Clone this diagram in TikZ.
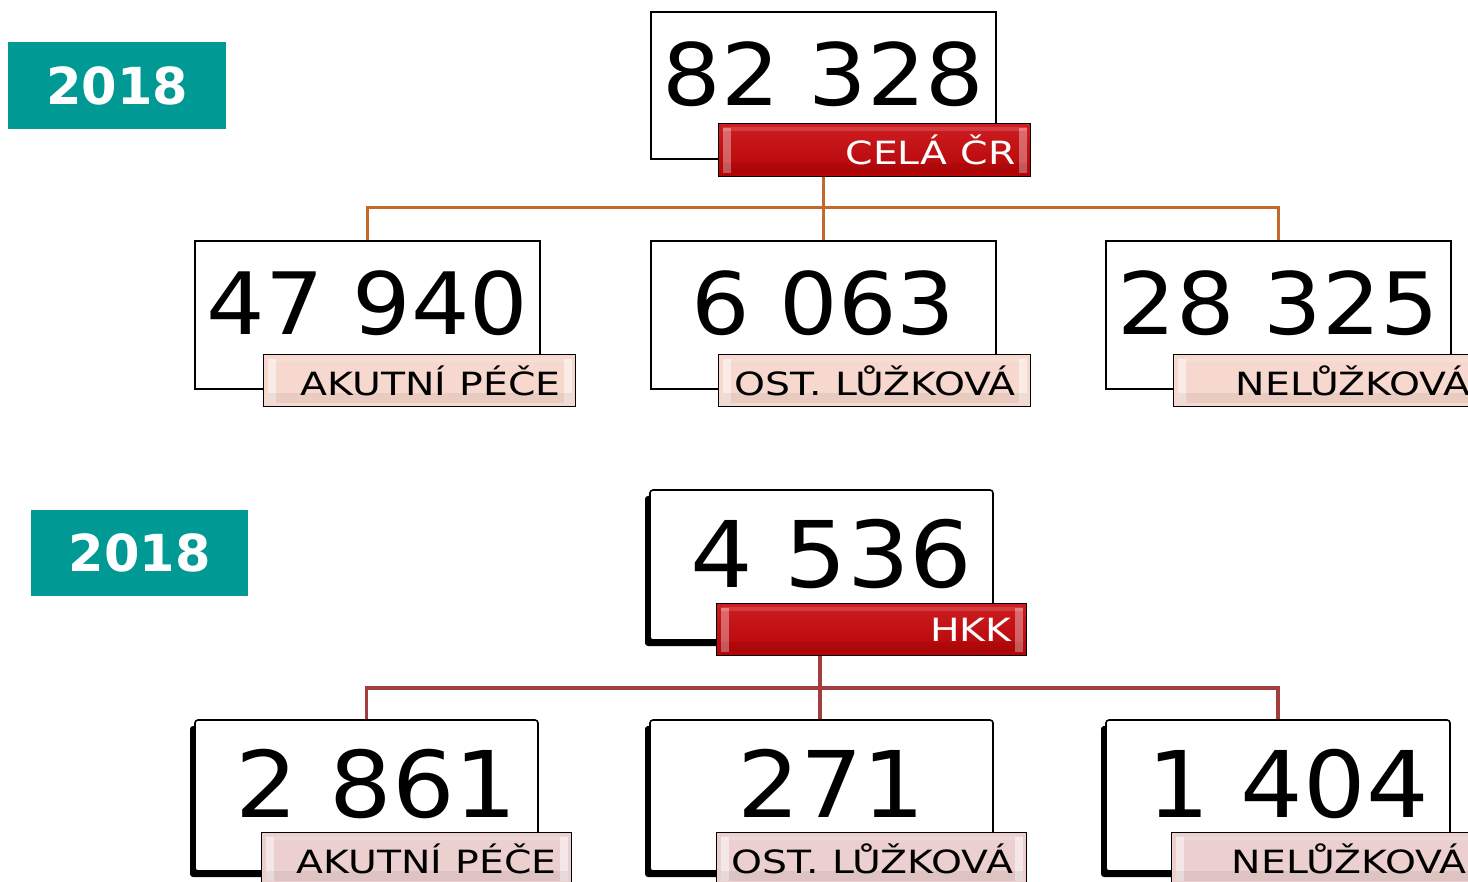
\documentclass[tikz,border=0pt]{standalone}
\usepackage{fontspec}
\setmainfont{DejaVu Sans}
\usepackage{graphicx}
\usetikzlibrary{shadows}
\definecolor{teal1}{RGB}{0,153,148}
\definecolor{redA}{RGB}{206,30,34}
\definecolor{redB}{RGB}{180,4,6}
\definecolor{pinkA}{RGB}{247,216,206}
\definecolor{pinkB}{RGB}{235,208,207}
\definecolor{connA}{RGB}{196,104,44}
\definecolor{connB}{RGB}{164,62,62}
\pgfdeclarelayer{bg}\pgfsetlayers{bg,main}
\tikzset{
 yearbox/.style={fill=teal1, text=white, font=\fontsize{51}{56}\selectfont\bfseries, inner sep=0pt, text depth=0pt},
 numbox/.style={draw=black, line width=1.5pt, fill=white, inner sep=0pt},
 numboxB/.style={numbox, line width=1.6pt, rounded corners=3pt, drop shadow={shadow xshift=-5pt, shadow yshift=-6pt, fill=black, opacity=1}},
 numtxt/.style={inner sep=0pt, text depth=0pt, font=\fontsize{86}{90}\selectfont},
 numtxtB/.style={numtxt, font=\fontsize{92}{96}\selectfont},
 bevel/.style={path picture={
   \fill[white,opacity=#1] ([xshift=4pt,yshift=-4pt]path picture bounding box.north west) rectangle ([xshift=12pt,yshift=4pt]path picture bounding box.south west);
   \fill[white,opacity=#1] ([xshift=-4pt,yshift=-4pt]path picture bounding box.north east) rectangle ([xshift=-12pt,yshift=4pt]path picture bounding box.south east);
   \fill[white,opacity=0.15] ([xshift=4pt,yshift=-3pt]path picture bounding box.north west) rectangle ([xshift=-4pt,yshift=-7pt]path picture bounding box.north east);
   \fill[black,opacity=0.06] ([xshift=4pt,yshift=4pt]path picture bounding box.south west) rectangle ([xshift=-4pt,yshift=14pt]path picture bounding box.south east);
 }},
 lab/.style={draw=black, line width=1.2pt, minimum height=52pt, inner xsep=15pt, inner ysep=0pt,
   text width=282pt, align=right, font=\fontsize{32}{35}\selectfont, anchor=north west, text depth=0pt},
 redlab/.style={lab, top color=redA, bottom color=redB, text=white, bevel=0.35},
 pinklab/.style={lab, fill=pinkA, text=black, bevel=0.5},
 pinklabB/.style={lab, fill=pinkB, text=black, bevel=0.5, text width=280pt},
 connT/.style={draw=connA, line width=3pt},
 connBt/.style={draw=connB, line width=3.2pt},
}
\newcommand{\lbl}[1]{\scalebox{1.23}[1]{#1}}
\newcommand{\num}[1]{\scalebox{1.07}[1]{#1}}
\begin{document}
\begin{tikzpicture}[x=1pt,y=-1pt]
\useasboundingbox (0,0) rectangle (1468,882);
\clip (0,0) rectangle (1468,882);
% ---------------- top section ----------------
\node[yearbox, minimum width=218pt, minimum height=87pt] (y1) at (117,85.5) {2018};
\node[numbox, minimum width=345pt, minimum height=147pt] (p1) at (823.5,85.5) {};
\node[numtxt] (n1) at ([yshift=12pt]p1.center) {\num{82 328}};
\node[redlab, minimum height=53pt] (pl1) at (718,123) {\lbl{CELÁ ČR}};

\node[numbox, minimum width=345pt, minimum height=148pt] (c1) at (367.5,315) {};
\node[numtxt] (n2) at ([yshift=12pt]c1.center) {\num{47 940}};
\node[pinklab] (cl1) at (263,354) {\lbl{AKUTNÍ PÉČE}};

\node[numbox, minimum width=345pt, minimum height=148pt] (c2) at (823.5,315) {};
\node[numtxt] (n3) at ([yshift=12pt]c2.center) {\num{6 063}};
\node[pinklab] (cl2) at (718,354) {\lbl{OST. LŮŽKOVÁ}};

\node[numbox, minimum width=345pt, minimum height=148pt] (c3) at (1278.5,315) {};
\node[numtxt] (n4) at ([yshift=12pt]c3.center) {\num{28 325}};
\node[pinklab] (cl3) at (1173,354) {\lbl{NELŮŽKOVÁ}};

\coordinate (j1) at (823.5,208);
\begin{pgfonlayer}{bg}
\draw[connT] (p1.south) -- (j1) -| (c1.north);
\draw[connT] (j1) -- (c2.north);
\draw[connT] (j1) -| (c3.north);
\end{pgfonlayer}

% ---------------- bottom section ----------------
\node[yearbox, minimum width=217pt, minimum height=86pt] (y2) at (139.5,553) {2018};
\node[numboxB, minimum width=343pt, minimum height=150pt] (p2) at (821.5,565) {};
\node[numtxtB] (m1) at ([xshift=10pt,yshift=12pt]p2.center) {\num{4 536}};
\node[redlab, text width=280pt] (pl2) at (716,603) {\lbl{HKK}};

\node[numboxB, minimum width=343pt, minimum height=151pt] (d1) at (366.5,795.5) {};
\node[numtxtB] (m2) at ([xshift=10pt,yshift=12pt]d1.center) {\num{2 861}};
\node[pinklabB] (dl1) at (261,832) {\lbl{AKUTNÍ PÉČE}};

\node[numboxB, minimum width=343pt, minimum height=151pt] (d2) at (821.5,795.5) {};
\node[numtxtB] (m3) at ([xshift=10pt,yshift=12pt]d2.center) {\num{271}};
\node[pinklabB] (dl2) at (716,832) {\lbl{OST. LŮŽKOVÁ}};

\node[numboxB, minimum width=344pt, minimum height=151pt] (d3) at (1278,795.5) {};
\node[numtxtB] (m4) at ([xshift=10pt,yshift=12pt]d3.center) {\num{1 404}};
\node[pinklabB] (dl3) at (1171,832) {\lbl{NELŮŽKOVÁ}};

\coordinate (j2) at (820,688);
\begin{pgfonlayer}{bg}
\draw[connBt] (pl2.south -| j2) -- (j2) -| (d1.north);
\draw[connBt] (j2) -- (d2.north -| j2);
\draw[connBt] (j2) -| (d3.north);
\end{pgfonlayer}
\end{tikzpicture}
\end{document}
